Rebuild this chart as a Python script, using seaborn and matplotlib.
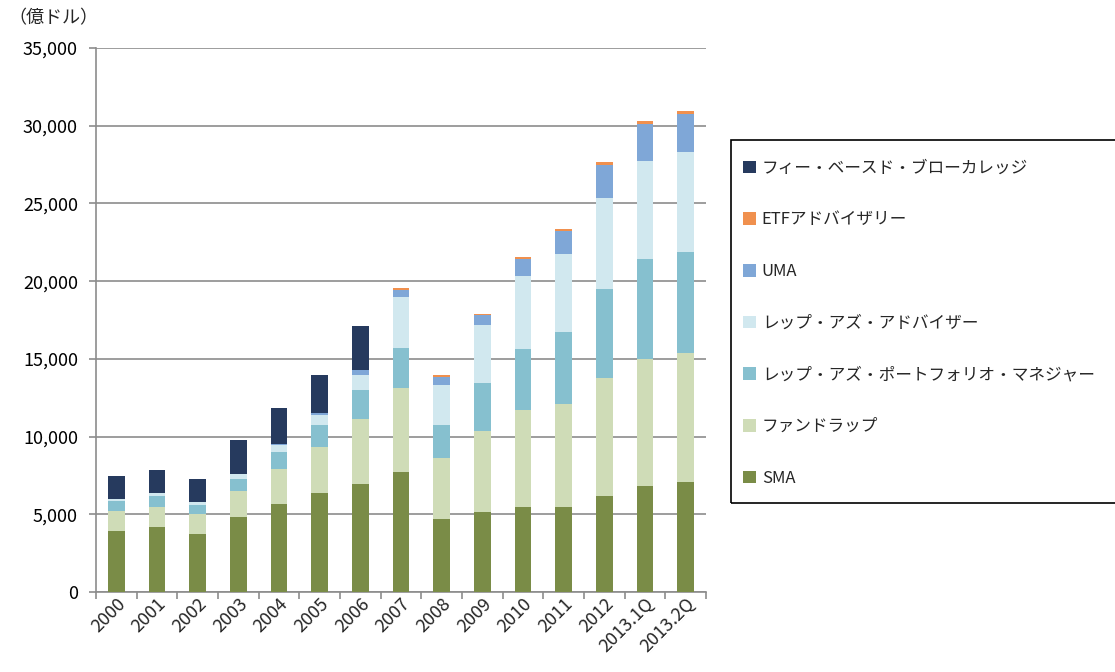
import matplotlib
matplotlib.use("Agg")
import matplotlib.pyplot as plt
import seaborn as sns
import numpy as np
import pandas as pd
from matplotlib.patches import Patch, Rectangle
from matplotlib.ticker import FuncFormatter, FixedLocator

years = ["2000", "2001", "2002", "2003", "2004", "2005", "2006", "2007",
         "2008", "2009", "2010", "2011", "2012", "2013.1Q", "2013.2Q"]

sma = [3900, 4150, 3750, 4800, 5650, 6350, 6950, 7700, 4700, 5150, 5500, 5500, 6150, 6850, 7050]
fund_wrap = [1300, 1350, 1250, 1700, 2250, 3000, 4150, 5400, 3900, 5200, 6200, 6600, 7600, 8150, 8300]
rep_pm = [650, 650, 600, 800, 1100, 1400, 1900, 2600, 2150, 3100, 3950, 4600, 5750, 6400, 6550]
rep_adv = [150, 200, 200, 300, 450, 650, 950, 3300, 2600, 3700, 4700, 5050, 5850, 6350, 6400]
uma = [0, 0, 0, 0, 80, 120, 350, 450, 500, 650, 1100, 1450, 2150, 2350, 2450]
etf = [0, 0, 0, 0, 0, 0, 0, 100, 80, 100, 100, 130, 170, 200, 220]
fee_based = [1450, 1500, 1500, 2200, 2300, 2450, 2800, 0, 0, 0, 0, 0, 0, 0, 0]

series_names = ["SMA", "ファンドラップ", "レップ・アズ・ポートフォリオ・マネジャー",
                "レップ・アズ・アドバイザー", "UMA", "ETFアドバイザリー",
                "フィー・ベースド・ブローカレッジ"]
series_values = [sma, fund_wrap, rep_pm, rep_adv, uma, etf, fee_based]
colors = ["#7a8c47", "#cfdcb7", "#86c0cf", "#d1e8ef", "#7fa7d7", "#f0904e", "#263a5e"]

sns.set_theme(style="white")
plt.rcParams['font.family'] = ['Noto Sans CJK JP', 'DejaVu Sans']

fig = plt.figure(figsize=(11.15, 6.72), dpi=100)
ax = fig.add_axes([96/1115, 80/672, 610/1115, 544/672])

cum = np.cumsum(np.array(series_values), axis=0)
# draw from top layer down so each lower layer overlays
for i in range(len(series_values) - 1, -1, -1):
    df = pd.DataFrame({"year": years, "value": cum[i]})
    sns.barplot(data=df, x="year", y="value", color=colors[i], width=0.41,
                saturation=1, ax=ax, linewidth=0, zorder=3)

ax.set_ylim(0, 35000)
ax.set_xlim(-0.5, len(years) - 0.5)
ax.set_yticks(np.arange(0, 35001, 5000))
ax.yaxis.set_major_formatter(FuncFormatter(lambda v, p: f"{int(v):,}"))
ax.grid(axis="y", color="#8c8c8c", linewidth=1.2, zorder=0)
ax.set_axisbelow(True)
ax.set_xlabel("")
ax.set_ylabel("")
for s in ["top", "right"]:
    ax.spines[s].set_visible(False)
for s in ["left", "bottom"]:
    ax.spines[s].set_color("#8c8c8c")
    ax.spines[s].set_linewidth(1.2)

ax.tick_params(axis="y", which="major", length=5, color="#8c8c8c", width=1.2,
               labelsize=13, pad=8, left=True, labelcolor="black")
ax.tick_params(axis="x", which="major", length=0, labelsize=13, pad=2)
ax.xaxis.set_minor_locator(FixedLocator(np.arange(-0.5, len(years), 1.0)))
ax.tick_params(axis="x", which="minor", length=5, color="#8c8c8c", width=1.2, bottom=True)
for lbl in ax.get_xticklabels():
    lbl.set_rotation(45)
    lbl.set_ha("right")
    lbl.set_va("top")
    lbl.set_rotation_mode("anchor")

fig.text(8/1115, 1 - 18/672, "（億ドル）", fontsize=13, va="center", ha="left")

# legend
handles = [Patch(facecolor=colors[i], edgecolor="none", label=series_names[i])
           for i in range(len(series_names) - 1, -1, -1)]
fig.patches.append(Rectangle((731/1115, (672-503)/672), 0.5, 363/672,
                             transform=fig.transFigure, fill=False,
                             edgecolor="black", linewidth=1.2))
fig.legend(handles=handles, loc="upper left",
           bbox_to_anchor=(736/1115, 1 - 153/672), frameon=False,
           fontsize=12, handlelength=0.8, handleheight=0.8,
           handletextpad=0.35, labelspacing=2.08, borderaxespad=0)

fig.savefig("out.png", dpi=100)
